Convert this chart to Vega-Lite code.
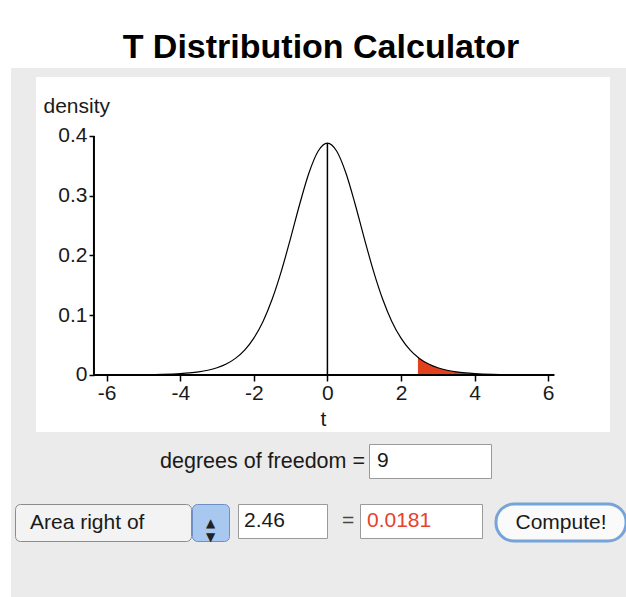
{
  "$schema": "https://vega.github.io/schema/vega-lite/v6.json",
  "background": "#ebebeb",
  "padding": 0,
  "spacing": 0,
  "config": {
    "view": {"stroke": null},
    "font": "Liberation Sans",
    "concat": {"spacing": 0},
    "text": {"font": "Liberation Sans", "fontSize": 21, "color": "#1a1a1a"}
  },
  "datasets": {
    "curve": [
      {"t": -6, "density": 0.000124},
      {"t": -5.5, "density": 0.000246},
      {"t": -5, "density": 0.000504},
      {"t": -4.5, "density": 0.00107},
      {"t": -4, "density": 0.002346},
      {"t": -3.75, "density": 0.003512},
      {"t": -3.5, "density": 0.005288},
      {"t": -3.25, "density": 0.007998},
      {"t": -3, "density": 0.012126},
      {"t": -2.75, "density": 0.018385},
      {"t": -2.5, "density": 0.02778},
      {"t": -2.25, "density": 0.041665},
      {"t": -2, "density": 0.061712},
      {"t": -1.75, "density": 0.089724},
      {"t": -1.5, "density": 0.127152},
      {"t": -1.25, "density": 0.174287},
      {"t": -1, "density": 0.229131},
      {"t": -0.75, "density": 0.286568},
      {"t": -0.5, "density": 0.338357},
      {"t": -0.25, "density": 0.374838},
      {"t": 0, "density": 0.388035},
      {"t": 0.25, "density": 0.374838},
      {"t": 0.5, "density": 0.338357},
      {"t": 0.75, "density": 0.286568},
      {"t": 1, "density": 0.229131},
      {"t": 1.25, "density": 0.174287},
      {"t": 1.5, "density": 0.127152},
      {"t": 1.75, "density": 0.089724},
      {"t": 2, "density": 0.061712},
      {"t": 2.25, "density": 0.041665},
      {"t": 2.46, "density": 0.02966},
      {"t": 2.5, "density": 0.02778},
      {"t": 2.75, "density": 0.018385},
      {"t": 3, "density": 0.012126},
      {"t": 3.25, "density": 0.007998},
      {"t": 3.5, "density": 0.005288},
      {"t": 3.75, "density": 0.003512},
      {"t": 4, "density": 0.002346},
      {"t": 4.5, "density": 0.00107},
      {"t": 5, "density": 0.000504},
      {"t": 5.5, "density": 0.000246},
      {"t": 6, "density": 0.000124}
    ],
    "none": []
  },
  "vconcat": [
    {
      "width": 626,
      "height": 68,
      "view": {"fill": "white", "stroke": null},
      "data": {"values": [{"label": "T Distribution Calculator"}]},
      "mark": {"type": "text", "fontSize": 34, "fontWeight": "bold", "color": "black", "baseline": "alphabetic", "dx": 8, "dy": 24},
      "encoding": {"text": {"field": "label"}}
    },
    {
      "spacing": 0,
      "hconcat": [
        {
          "width": 11,
          "height": 529,
          "view": {"fill": "white", "stroke": null},
          "data": {"name": "none"},
          "mark": "text",
          "encoding": {"text": {"field": "s"}}
        },
        {
          "spacing": 0,
          "vconcat": [
            {
              "width": 1, "height": 9,
              "data": {"name": "none"},
              "mark": "text",
              "encoding": {"text": {"field": "s"}}
            },
            {
              "spacing": 0,
              "hconcat": [
                {
                  "width": 25, "height": 1,
                  "data": {"name": "none"},
                  "mark": "text",
                  "encoding": {"text": {"field": "s"}}
                },
                {
                  "width": 574,
                  "height": 355,
                  "view": {"fill": "white", "stroke": null},
                  "data": {"name": "curve"},
                  "layer": [
                    {
                      "transform": [{"filter": "datum.t >= 2.46"}],
                      "mark": {"type": "area", "color": "#e2411d", "interpolate": "monotone"},
                      "encoding": {
                        "x": {
                          "field": "t", "type": "quantitative",
                          "scale": {"domain": [-7.92, 7.68], "nice": false, "zero": false},
                          "axis": {
                            "orient": "bottom", "offset": -57, "domain": false, "grid": false,
                            "values": [-6, -4, -2, 0, 2, 4, 6],
                            "labelExpr": "datum.value < 0 ? '-' + abs(datum.value) : '' + datum.value",
                            "tickSize": 6, "tickColor": "black", "tickWidth": 1.5,
                            "labelFontSize": 21, "labelColor": "#1a1a1a", "labelPadding": 1, "labelFont": "Liberation Sans",
                            "title": "t", "titleFontSize": 21, "titleFontWeight": "normal", "titleColor": "#1a1a1a", "titlePadding": 5, "titleFont": "Liberation Sans"
                          }
                        },
                        "y": {
                          "field": "density", "type": "quantitative",
                          "scale": {"domain": [-0.0954, 0.4987], "nice": false, "zero": false},
                          "axis": {
                            "orient": "left", "offset": -58, "domain": false, "grid": false,
                            "values": [0, 0.1, 0.2, 0.3, 0.4],
                            "labelExpr": "datum.value == 0 ? '0' : format(datum.value, '.1f')",
                            "tickSize": 5, "tickColor": "black", "tickWidth": 1.5,
                            "labelFontSize": 21, "labelColor": "#1a1a1a", "labelPadding": 2, "labelFont": "Liberation Sans",
                            "title": "density", "titleAngle": 0, "titleAlign": "left", "titleBaseline": "alphabetic",
                            "titleX": -51, "titleY": 35,
                            "titleFontSize": 21, "titleFontWeight": "normal", "titleColor": "#1a1a1a", "titleFont": "Liberation Sans"
                          }
                        },
                        "y2": {"datum": 0}
                      }
                    },
                    {
                      "mark": {"type": "line", "color": "black", "strokeWidth": 1.2, "interpolate": "monotone"},
                      "encoding": {
                        "x": {"field": "t", "type": "quantitative"},
                        "y": {"field": "density", "type": "quantitative"}
                      }
                    },
                    {
                      "data": {"values": [{"axis": "t"}]},
                      "mark": {"type": "rule", "color": "black", "strokeWidth": 2},
                      "encoding": {
                        "x": {"datum": -6.345, "type": "quantitative"},
                        "x2": {"datum": 6.17},
                        "y": {"datum": 0, "type": "quantitative"}
                      }
                    },
                    {
                      "data": {"values": [{"axis": "density"}]},
                      "mark": {"type": "rule", "color": "black", "strokeWidth": 2},
                      "encoding": {
                        "x": {"datum": -6.345, "type": "quantitative"},
                        "y": {"datum": 0, "type": "quantitative"},
                        "y2": {"datum": 0.4}
                      }
                    },
                    {
                      "transform": [{"filter": "datum.t == 0"}],
                      "mark": {"type": "rule", "color": "black", "strokeWidth": 1.5},
                      "encoding": {
                        "x": {"field": "t", "type": "quantitative"},
                        "y": {"field": "density", "type": "quantitative"},
                        "y2": {"datum": 0}
                      }
                    }
                  ]
                }
              ]
            },
            {
              "width": 1, "height": 11,
              "data": {"name": "none"},
              "mark": "text",
              "encoding": {"text": {"field": "s"}}
            },
            {
              "spacing": 3,
              "hconcat": [
                {
                  "width": 354, "height": 35,
                  "data": {"values": [{"label": "degrees of freedom ="}]},
                  "mark": {"type": "text", "align": "right", "fontSize": 21.5},
                  "encoding": {"text": {"field": "label"}, "x": {"value": "width"}}
                },
                {
                  "width": 122, "height": 34,
                  "view": {"fill": "white", "stroke": "#9a9a9a", "strokeWidth": 1},
                  "data": {"values": [{"v": "9"}]},
                  "mark": {"type": "text", "align": "left", "dx": 8},
                  "encoding": {"text": {"field": "v"}, "x": {"value": 0}}
                }
              ]
            },
            {
              "width": 1, "height": 23,
              "data": {"name": "none"},
              "mark": "text",
              "encoding": {"text": {"field": "s"}}
            },
            {
              "spacing": 0,
              "hconcat": [
                {
                  "width": 3, "height": 1,
                  "data": {"name": "none"},
                  "mark": "text",
                  "encoding": {"text": {"field": "s"}}
                },
                {
                  "spacing": -3,
                  "hconcat": [
                    {
                      "width": 176, "height": 37,
                      "view": {"fill": "#f3f3f3", "stroke": "#8c8c8c", "strokeWidth": 1, "cornerRadius": 5},
                      "data": {"values": [{"v": "Area right of"}]},
                      "mark": {"type": "text", "align": "left", "dx": 15},
                      "encoding": {"text": {"field": "v"}, "x": {"value": 0}}
                    },
                    {
                      "width": 37, "height": 37,
                      "view": {"fill": "#a9c8f0", "stroke": "#6f8fc4", "strokeWidth": 1, "cornerRadius": 5},
                      "data": {"values": [{"v": "select"}]},
                      "mark": {"type": "text", "fontSize": 12, "lineHeight": 14, "color": "#222", "font": "DejaVu Sans"},
                      "encoding": {"text": {"value": ["▲", "▼"]}}
                    }
                  ]
                },
                {
                  "width": 7, "height": 1,
                  "data": {"name": "none"},
                  "mark": "text",
                  "encoding": {"text": {"field": "s"}}
                },
                {
                  "width": 89, "height": 34,
                  "view": {"fill": "white", "stroke": "#9a9a9a", "strokeWidth": 1},
                  "data": {"values": [{"v": "2.46"}]},
                  "mark": {"type": "text", "align": "left", "dx": 6},
                  "encoding": {"text": {"field": "v"}, "x": {"value": 0}}
                },
                {
                  "width": 13, "height": 1,
                  "data": {"name": "none"},
                  "mark": "text",
                  "encoding": {"text": {"field": "s"}}
                },
                {
                  "width": 14, "height": 34,
                  "data": {"values": [{"v": "="}]},
                  "mark": {"type": "text", "color": "#444"},
                  "encoding": {"text": {"field": "v"}}
                },
                {
                  "width": 4, "height": 1,
                  "data": {"name": "none"},
                  "mark": "text",
                  "encoding": {"text": {"field": "s"}}
                },
                {
                  "width": 122, "height": 34,
                  "view": {"fill": "white", "stroke": "#9a9a9a", "strokeWidth": 1},
                  "data": {"values": [{"v": "0.0181"}]},
                  "mark": {"type": "text", "align": "left", "dx": 7, "color": "#e8412a"},
                  "encoding": {"text": {"field": "v"}, "x": {"value": 0}}
                },
                {
                  "width": 11, "height": 1,
                  "data": {"name": "none"},
                  "mark": "text",
                  "encoding": {"text": {"field": "s"}}
                },
                {
                  "width": 130, "height": 37,
                  "view": {"fill": "#fafafa", "stroke": "#76a3d8", "strokeWidth": 3, "cornerRadius": 18},
                  "data": {"values": [{"v": "Compute!"}]},
                  "mark": {"type": "text"},
                  "encoding": {"text": {"field": "v"}}
                }
              ]
            }
          ]
        }
      ]
    }
  ]
}
